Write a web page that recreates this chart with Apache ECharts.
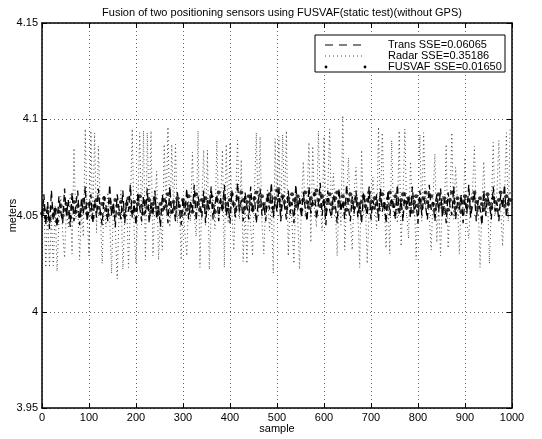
<!DOCTYPE html>
<html>
<head>
<meta charset="utf-8">
<script src="https://cdn.jsdelivr.net/npm/echarts@6/dist/echarts.min.js"></script>
<style>
html,body{margin:0;padding:0;background:#fff;}
#chart{width:542px;height:439px;}
</style>
</head>
<body>
<div id="chart"></div>
<script>
const titleText = 'Fusion of two positioning sensors using FUSVAF(static test)(without GPS)';
const xTicks = [0, 100, 200, 300, 400, 500, 600, 700, 800, 900, 1000];
const yTicks = [3.95, 4, 4.05, 4.1, 4.15];
const sampleStep = 4; // one plotted value every 4 samples

const transSSE = 'Trans SSE=0.06065';
const radarSSE = 'Radar SSE=0.35186';
const fusvafSSE = 'FUSVAF SSE=0.01650';

const trans = [
4.049,4.061,4.045,4.057,4.043,4.063,4.048,4.055,4.044,4.060,
4.052,4.046,4.064,4.050,4.058,4.044,4.062,4.047,4.056,4.063,
4.045,4.059,4.051,4.065,4.047,4.054,4.061,4.046,4.058,4.049,
4.064,4.052,4.045,4.060,4.055,4.047,4.066,4.050,4.057,4.044,
4.061,4.053,4.048,4.063,4.046,4.058,4.052,4.066,4.049,4.056,
4.045,4.062,4.054,4.047,4.060,4.051,4.064,4.046,4.057,4.050,
4.063,4.048,4.055,4.044,4.061,4.053,4.058,4.046,4.065,4.051,
4.056,4.047,4.062,4.054,4.045,4.059,4.050,4.064,4.048,4.057,
4.052,4.066,4.047,4.060,4.055,4.049,4.063,4.046,4.058,4.053,
4.065,4.048,4.056,4.061,4.047,4.059,4.052,4.066,4.050,4.057,
4.046,4.063,4.054,4.049,4.067,4.052,4.058,4.047,4.062,4.055,
4.048,4.065,4.051,4.060,4.046,4.057,4.064,4.050,4.056,4.047,
4.062,4.053,4.067,4.049,4.058,4.052,4.065,4.047,4.060,4.055,
4.048,4.063,4.051,4.057,4.046,4.066,4.053,4.059,4.049,4.062,
4.054,4.047,4.065,4.051,4.058,4.062,4.048,4.056,4.067,4.050,
4.059,4.045,4.063,4.053,4.049,4.061,4.056,4.046,4.064,4.052,
4.058,4.048,4.066,4.054,4.047,4.060,4.051,4.063,4.049,4.057,
4.046,4.062,4.055,4.050,4.065,4.048,4.058,4.053,4.061,4.047,
4.064,4.052,4.057,4.046,4.063,4.050,4.059,4.055,4.048,4.066,
4.051,4.058,4.047,4.062,4.054,4.060,4.049,4.065,4.052,4.056,
4.046,4.063,4.050,4.059,4.055,4.048,4.066,4.053,4.057,4.047,
4.061,4.052,4.064,4.049,4.058,4.046,4.062,4.055,4.050,4.065,
4.048,4.057,4.053,4.061,4.046,4.059,4.051,4.066,4.049,4.056,
4.062,4.047,4.058,4.054,4.045,4.063,4.050,4.060,4.056,4.048,
4.065,4.052,4.057,4.047,4.061,4.054,4.066,4.049,4.058,4.062
];

const radar = [
4.046,4.058,4.023,4.052,4.023,4.049,4.024,4.055,4.021,4.047,
4.060,4.041,4.028,4.054,4.044,4.061,4.030,4.085,4.048,4.057,
4.027,4.052,4.039,4.095,4.050,4.029,4.094,4.046,4.093,4.041,
4.086,4.053,4.025,4.058,4.044,4.062,4.049,4.020,4.056,4.043,
4.017,4.051,4.063,4.022,4.047,4.059,4.023,4.054,4.095,4.042,
4.025,4.057,4.093,4.045,4.094,4.027,4.093,4.050,4.094,4.029,
4.055,4.073,4.027,4.048,4.032,4.087,4.052,4.096,4.044,4.087,
4.051,4.087,4.046,4.060,4.027,4.054,4.041,4.029,4.058,4.047,
4.083,4.050,4.039,4.094,4.023,4.056,4.084,4.045,4.084,4.022,
4.053,4.061,4.043,4.089,4.049,4.057,4.084,4.023,4.087,4.046,
4.088,4.052,4.032,4.059,4.089,4.048,4.079,4.026,4.055,4.025,
4.058,4.044,4.029,4.062,4.093,4.050,4.091,4.046,4.030,4.057,
4.064,4.042,4.055,4.020,4.090,4.052,4.091,4.047,4.092,4.055,
4.094,4.029,4.058,4.046,4.025,4.061,4.050,4.022,4.056,4.078,
4.049,4.060,4.088,4.036,4.086,4.053,4.044,4.094,4.057,4.042,
4.091,4.051,4.063,4.095,4.048,4.072,4.055,4.029,4.059,4.045,
4.102,4.032,4.057,4.080,4.049,4.032,4.061,4.075,4.052,4.023,
4.084,4.050,4.058,4.025,4.054,4.047,4.070,4.056,4.043,4.096,
4.052,4.093,4.058,4.033,4.060,4.030,4.089,4.049,4.062,4.046,
4.094,4.034,4.057,4.095,4.051,4.038,4.078,4.055,4.061,4.027,
4.058,4.092,4.047,4.093,4.054,4.062,4.049,4.032,4.059,4.082,
4.036,4.056,4.029,4.060,4.050,4.087,4.033,4.055,4.093,4.048,
4.075,4.057,4.030,4.061,4.052,4.080,4.046,4.038,4.058,4.063,
4.086,4.051,4.057,4.023,4.055,4.078,4.049,4.060,4.025,4.054,
4.088,4.050,4.062,4.089,4.053,4.034,4.058,4.093,4.047,4.096
];

const fusvaf = [
4.051,4.053,4.049,4.052,4.048,4.054,4.050,4.053,4.047,4.052,
4.055,4.050,4.053,4.056,4.051,4.049,4.054,4.057,4.052,4.055,
4.050,4.053,4.058,4.054,4.051,4.056,4.053,4.049,4.055,4.058,
4.054,4.051,4.056,4.059,4.053,4.050,4.057,4.054,4.052,4.058,
4.055,4.051,4.057,4.053,4.050,4.056,4.059,4.054,4.052,4.057,
4.053,4.056,4.060,4.055,4.051,4.057,4.054,4.058,4.052,4.056,
4.059,4.054,4.051,4.056,4.053,4.058,4.055,4.061,4.056,4.052,
4.057,4.054,4.059,4.055,4.052,4.058,4.056,4.053,4.060,4.055,
4.052,4.057,4.061,4.056,4.053,4.058,4.055,4.059,4.054,4.057,
4.060,4.055,4.052,4.058,4.062,4.057,4.054,4.059,4.056,4.053,
4.058,4.061,4.056,4.053,4.059,4.055,4.062,4.058,4.054,4.057,
4.060,4.056,4.053,4.059,4.062,4.057,4.055,4.060,4.056,4.054,
4.058,4.061,4.057,4.054,4.059,4.063,4.058,4.055,4.060,4.057,
4.054,4.059,4.056,4.061,4.058,4.055,4.060,4.057,4.053,4.058,
4.062,4.057,4.054,4.059,4.056,4.061,4.063,4.058,4.055,4.060,
4.057,4.053,4.058,4.061,4.056,4.054,4.059,4.062,4.057,4.055,
4.060,4.056,4.053,4.058,4.061,4.057,4.054,4.059,4.056,4.052,
4.057,4.060,4.055,4.058,4.062,4.057,4.054,4.059,4.056,4.053,
4.058,4.061,4.056,4.054,4.059,4.062,4.057,4.055,4.060,4.056,
4.053,4.058,4.061,4.057,4.054,4.059,4.056,4.052,4.057,4.060,
4.055,4.058,4.054,4.059,4.062,4.057,4.055,4.060,4.056,4.053,
4.058,4.061,4.056,4.054,4.059,4.057,4.053,4.058,4.062,4.057,
4.054,4.059,4.056,4.052,4.057,4.060,4.055,4.058,4.054,4.059,
4.062,4.057,4.054,4.059,4.056,4.053,4.058,4.061,4.056,4.054,
4.059,4.057,4.053,4.058,4.062,4.057,4.055,4.060,4.056,4.058
];

function pair(values) {
  return values.map((v, i) => [i * sampleStep, v]);
}

const FONT = 'Liberation Sans, Arial, Helvetica, sans-serif';
const chart = echarts.init(document.getElementById('chart'), null, {renderer: 'canvas'});

const axisCommon = {
  type: 'value',
  axisLine: {show: true, onZero: false, lineStyle: {color: '#000', width: 1.5}},
  axisTick: {show: true, inside: true, length: 5, lineStyle: {color: '#000', width: 1}},
  splitLine: {show: false},
  axisLabel: {show: false}
};

// legend drawn as a boxed key (MATLAB style)
const LX = 315, LY = 35, LW = 190, LH = 37;
const rowY = [45, 56, 67];
const LZ = 100;
const legendElements = [
  {type: 'rect', z: LZ, shape: {x: LX, y: LY, width: LW, height: LH},
   style: {fill: '#fff', stroke: '#000', lineWidth: 1}},
  {type: 'line', z: LZ + 1, shape: {x1: 325, y1: rowY[0], x2: 361, y2: rowY[0]},
   style: {stroke: '#000', lineWidth: 1, lineDash: [8, 6]}},
  {type: 'line', z: LZ + 1, shape: {x1: 325, y1: rowY[1], x2: 362, y2: rowY[1]},
   style: {stroke: '#444', lineWidth: 1, lineDash: [1, 3]}},
  {type: 'circle', z: LZ + 1, shape: {cx: 326, cy: rowY[2], r: 1.4}, style: {fill: '#000'}},
  {type: 'circle', z: LZ + 1, shape: {cx: 365, cy: rowY[2], r: 1.4}, style: {fill: '#000'}},
  {type: 'text', z: LZ + 1, x: 388, y: rowY[0], style: {text: transSSE, fill: '#000', font: '11px ' + FONT, verticalAlign: 'middle'}},
  {type: 'text', z: LZ + 1, x: 388, y: rowY[1], style: {text: radarSSE, fill: '#000', font: '11px ' + FONT, verticalAlign: 'middle'}},
  {type: 'text', z: LZ + 1, x: 388, y: rowY[2], style: {text: fusvafSSE, fill: '#000', font: '11px ' + FONT, verticalAlign: 'middle'}}
];

chart.setOption({
  animation: false,
  backgroundColor: '#fff',
  title: {
    text: titleText,
    left: 277,
    textAlign: 'center',
    top: 2,
    textStyle: {fontFamily: FONT, fontSize: 11, fontWeight: 'normal', color: '#000'}
  },
  grid: {left: 42, right: 30, top: 23, bottom: 31, containLabel: false, outerBoundsMode: 'none'},
  xAxis: [
    Object.assign({}, axisCommon, {
      position: 'bottom', min: 0, max: 1000, interval: 100,
      axisLabel: {show: true, color: '#000', fontFamily: FONT, fontSize: 11, margin: 4,
                  formatter: v => String(v)},
      splitLine: {show: true, lineStyle: {color: '#666', width: 1, type: [1, 3]}},
      name: 'sample', nameLocation: 'middle', nameGap: 15, nameMoveOverlap: false,
      nameTextStyle: {fontFamily: FONT, fontSize: 11, color: '#000', verticalAlign: 'top'}
    }),
    Object.assign({}, axisCommon, {position: 'top', min: 0, max: 1000, interval: 100})
  ],
  yAxis: [
    Object.assign({}, axisCommon, {
      position: 'left', min: 3.95, max: 4.15, interval: 0.05,
      axisLabel: {show: true, color: '#000', fontFamily: FONT, fontSize: 11, margin: 4},
      splitLine: {show: true, lineStyle: {color: '#666', width: 1, type: [1, 3]}},
      name: 'meters', nameLocation: 'middle', nameGap: 24, nameMoveOverlap: false,
      nameTextStyle: {fontFamily: FONT, fontSize: 11, color: '#000'}
    }),
    Object.assign({}, axisCommon, {position: 'right', min: 3.95, max: 4.15, interval: 0.05})
  ],
  graphic: legendElements,
  series: [
    {
      name: transSSE, type: 'line', data: pair(trans),
      symbol: 'none', lineStyle: {color: '#000', width: 1.3, type: [7, 4]}, z: 3
    },
    {
      name: radarSSE, type: 'line', data: pair(radar),
      symbol: 'none', lineStyle: {color: '#444', width: 1, type: [1, 3]}, z: 2
    },
    {
      name: fusvafSSE, type: 'scatter', data: pair(fusvaf),
      symbol: 'circle', symbolSize: 4, itemStyle: {color: '#000'}, z: 4
    }
  ]
});
</script>
</body>
</html>
